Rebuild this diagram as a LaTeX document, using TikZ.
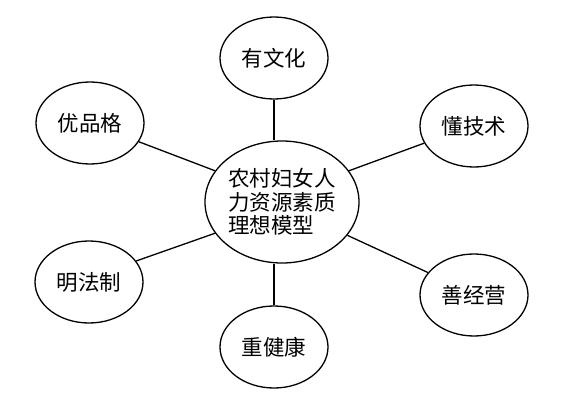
\documentclass[tikz,border=0pt]{standalone}
\usepackage{fontspec}
\newfontfamily\cjk{Noto Sans CJK SC}
\usetikzlibrary{shapes.geometric}
\begin{document}
\begin{tikzpicture}[x=1pt,y=-1pt,
  bub/.style={ellipse,draw,line width=1.3pt,fill=white,minimum width=108pt,minimum height=82pt,inner sep=0pt,font=\cjk\fontsize{21.5}{23.5}\selectfont},
  link/.style={line width=1.3pt}]
\useasboundingbox[fill=white] (0,0) rectangle (566,402);
\node[bub,minimum width=154pt,minimum height=122pt,align=left] (c) at (282,202) {农村妇女人\\力资源素质\\理想模型};
\node[bub] (wh) at (274,58) {有文化};
\node[bub] (pg) at (90,123) {优品格};
\node[bub] (js) at (474,126) {懂技术};
\node[bub] (fz) at (89,282) {明法制};
\node[bub] (jy) at (474,295) {善经营};
\node[bub] (jk) at (274,347) {重健康};
\draw[link] (wh.south) -- (wh.south |- c.north);
\draw[link] (jk.north) -- (jk.north |- c.south);
\draw[link] (pg.-21) -- (c.155);
\draw[link] (js.199) -- (c.25.5);
\draw[link] (fz.24) -- (c.205);
\draw[link] (jy.154) -- (c.333);
\end{tikzpicture}
\end{document}
